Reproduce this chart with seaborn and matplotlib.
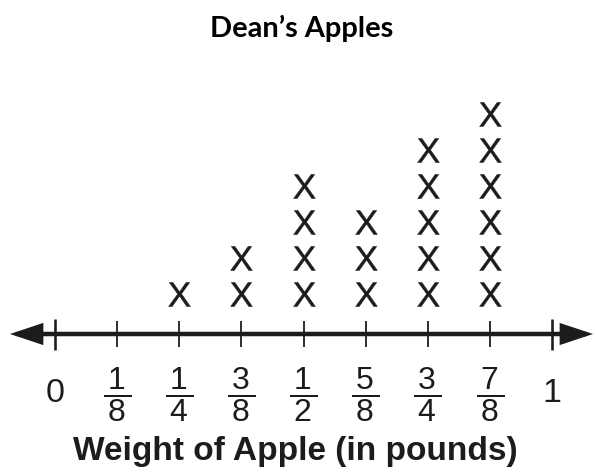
import numpy as np
import pandas as pd
import matplotlib
matplotlib.use("Agg")
import matplotlib.pyplot as plt
import seaborn as sns

# ---- data ----
weights = [0, 1/8, 1/4, 3/8, 1/2, 5/8, 3/4, 7/8, 1]
tick_labels = ['0', '1/8', '1/4', '3/8', '1/2', '5/8', '3/4', '7/8', '1']
counts = [0, 0, 1, 2, 4, 3, 5, 6, 0]
title = "Dean\u2019s Apples"
xlabel = "Weight of Apple (in pounds)"

rows = []
for w, c in zip(weights, counts):
    for k in range(1, c + 1):
        rows.append({"weight": w, "level": k})
df = pd.DataFrame(rows)

sns.set_theme(style="white")
plt.rcParams['font.family'] = ['Liberation Sans', 'DejaVu Sans']
plt.rcParams['mathtext.fontset'] = 'custom'
plt.rcParams['mathtext.rm'] = 'Liberation Sans'
plt.rcParams['mathtext.sf'] = 'Liberation Sans'
plt.rcParams['mathtext.it'] = 'Liberation Sans:italic'
plt.rcParams['mathtext.bf'] = 'Liberation Sans:bold'

DPI = 72
W, H = 595, 474
fig = plt.figure(figsize=(W / DPI, H / DPI), dpi=DPI)
fig.patch.set_facecolor('white')

axis_y_px = 140  # from bottom
ax = fig.add_axes([0, axis_y_px / H, 1, (H - axis_y_px) / H])
ink = '#1c1c1c'

x0_px, x1_px = 55, 552
scale = x1_px - x0_px
ax.set_xlim(-x0_px / scale, (W - x0_px) / scale)
unit = 36.0
off = 4 / unit
ax.set_ylim(-off, (H - axis_y_px) / unit - off)

sns.scatterplot(data=df, x="weight", y="level", ax=ax,
                marker=r'$\mathsf{X}$', s=24 ** 2, color=ink,
                edgecolor=ink, linewidth=0.5, legend=False, clip_on=False)

for s in ax.spines.values():
    s.set_visible(False)
ax.set_yticks([])
ax.set_ylabel("")

# number line with arrows
ax.annotate('', xy=((593 - x0_px) / scale, 0), xytext=((10 - x0_px) / scale, 0),
            xycoords=('data', 'axes fraction'), textcoords=('data', 'axes fraction'),
            arrowprops=dict(arrowstyle='<|-|>,head_length=24,head_width=8',
                            mutation_scale=1, lw=4.5, color=ink,
                            shrinkA=0, shrinkB=0, joinstyle='miter'),
            annotation_clip=False)

def frac(lbl):
    if '/' in lbl:
        n, d = lbl.split('/')
        return r'$\dfrac{\,' + n + r'\,}{' + d + '}$'
    return lbl

major_pos = [w for w, l in zip(weights, tick_labels) if '/' not in l]
major_lab = [l for l in tick_labels if '/' not in l]
minor_pos = [w for w, l in zip(weights, tick_labels) if '/' in l]
minor_lab = [frac(l) for l in tick_labels if '/' in l]

ax.set_xticks(major_pos, labels=major_lab)
ax.set_xticks(minor_pos, labels=minor_lab, minor=True)
ax.tick_params(axis='x', which='major', direction='inout', length=31, width=2.6,
               color=ink, bottom=True, labelbottom=True, labelsize=34,
               labelcolor=ink, pad=59 - 15.5)
ax.tick_params(axis='x', which='minor', direction='inout', length=26, width=1.8,
               color=ink, bottom=True, labelbottom=True, labelsize=32,
               labelcolor=ink, pad=60 - 13)
for t in ax.get_xticklabels(which='both'):
    t.set_va('center')

ax.set_xlabel(xlabel, fontsize=33.5, fontweight='bold', color=ink)
ax.xaxis.label.set_va('baseline')
ax.xaxis.set_label_coords(295 / W, (14 - axis_y_px) / (H - axis_y_px))

fig.text(302 / W, 1 - 28 / H, title, ha='center', va='center',
         fontsize=29, fontweight='bold', family=['Lato', 'DejaVu Sans'], color='black')

fig.savefig('out.png', dpi=DPI, facecolor='white')
